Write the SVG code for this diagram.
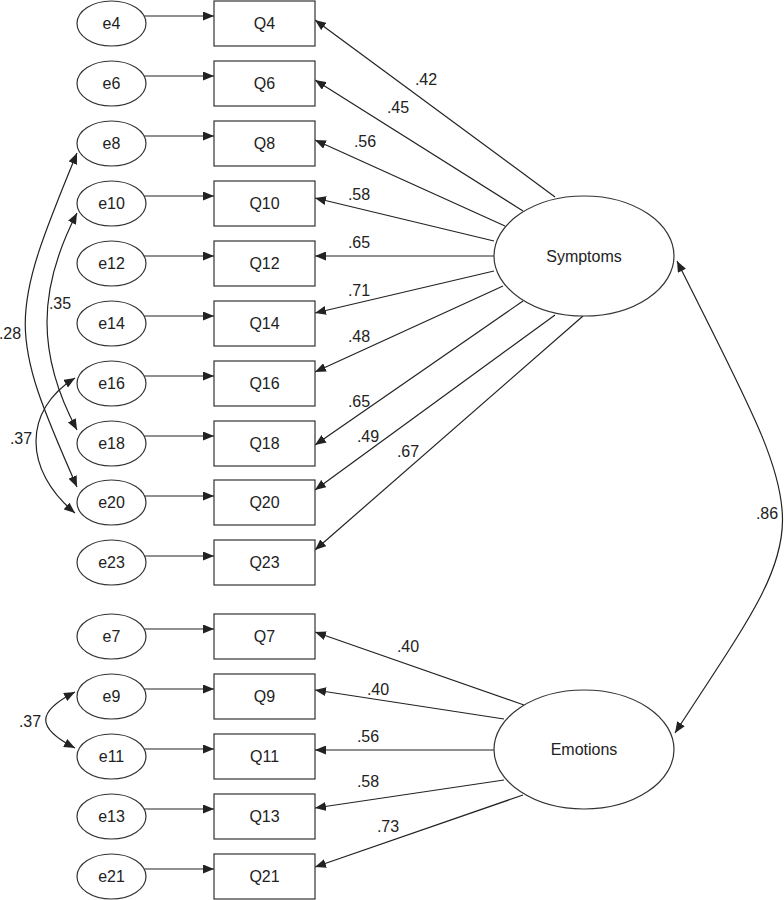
<svg xmlns="http://www.w3.org/2000/svg" width="784" height="900" viewBox="0 0 784 900">
<defs>
<marker id="ah" markerWidth="11" markerHeight="9" refX="11" refY="4.5" orient="auto-start-reverse" markerUnits="userSpaceOnUse">
<path d="M0,0 L11,4.5 L0,9 z" fill="#222"/>
</marker>
<style>
.n{fill:#fff;stroke:#333;stroke-width:1.2}
.t{font-family:"Liberation Sans",Arial,Helvetica,sans-serif;font-size:16px;fill:#222;text-anchor:middle}
.c{fill:none;stroke:#222;stroke-width:1.2;marker-end:url(#ah)}
.b{fill:none;stroke:#222;stroke-width:1.2;marker-start:url(#ah);marker-end:url(#ah)}
</style>
</defs>
<rect width="784" height="900" fill="#fff"/>

<g id="connectors">
<!-- error to item -->
<line class="c" x1="144" y1="16" x2="214" y2="16"/>
<line class="c" x1="144" y1="76" x2="214" y2="76"/>
<line class="c" x1="144" y1="136" x2="214" y2="136"/>
<line class="c" x1="144" y1="196" x2="214" y2="196"/>
<line class="c" x1="144" y1="256" x2="214" y2="256"/>
<line class="c" x1="144" y1="316" x2="214" y2="316"/>
<line class="c" x1="144" y1="376" x2="214" y2="376"/>
<line class="c" x1="144" y1="436" x2="214" y2="436"/>
<line class="c" x1="144" y1="496" x2="214" y2="496"/>
<line class="c" x1="144" y1="556" x2="214" y2="556"/>
<line class="c" x1="144" y1="629" x2="214" y2="629"/>
<line class="c" x1="144" y1="689" x2="214" y2="689"/>
<line class="c" x1="144" y1="749" x2="214" y2="749"/>
<line class="c" x1="144" y1="809" x2="214" y2="809"/>
<line class="c" x1="144" y1="869" x2="214" y2="869"/>
<!-- Symptoms loadings -->
<line class="c" x1="555" y1="197" x2="315" y2="20"/>
<line class="c" x1="523" y1="211" x2="315" y2="80"/>
<line class="c" x1="505" y1="226" x2="315" y2="140"/>
<line class="c" x1="494" y1="241" x2="315" y2="198"/>
<line class="c" x1="494" y1="256" x2="315" y2="256"/>
<line class="c" x1="494" y1="271" x2="315" y2="313"/>
<line class="c" x1="503" y1="286" x2="315" y2="372"/>
<line class="c" x1="523" y1="301" x2="315" y2="445"/>
<line class="c" x1="555" y1="315" x2="315" y2="490"/>
<line class="c" x1="583" y1="316" x2="315" y2="550"/>
<!-- Emotions loadings -->
<line class="c" x1="524" y1="705" x2="315" y2="632"/>
<line class="c" x1="504" y1="719" x2="315" y2="690"/>
<line class="c" x1="494" y1="750" x2="315" y2="750"/>
<line class="c" x1="504" y1="780" x2="315" y2="808"/>
<line class="c" x1="523" y1="795" x2="315" y2="867"/>
<!-- covariances -->
<path class="b" d="M677,261 C818,543 818,513 675,733"/>
<path class="b" d="M77,153 C8,320 8,330 77,487"/>
<path class="b" d="M77,213 C37,290 37,355 77,430"/>
<path class="b" d="M75,378 C23,410 23,470 75,513"/>
<path class="b" d="M75,692 C36,712 36,728 75,748"/>
</g>

<g id="labels">
<text class="t" x="426" y="79" dy="0.35em">.42</text>
<text class="t" x="398" y="107" dy="0.35em">.45</text>
<text class="t" x="365" y="141" dy="0.35em">.56</text>
<text class="t" x="359" y="194" dy="0.35em">.58</text>
<text class="t" x="359" y="242" dy="0.35em">.65</text>
<text class="t" x="359" y="290" dy="0.35em">.71</text>
<text class="t" x="359" y="336" dy="0.35em">.48</text>
<text class="t" x="359" y="401" dy="0.35em">.65</text>
<text class="t" x="368" y="436" dy="0.35em">.49</text>
<text class="t" x="408" y="451" dy="0.35em">.67</text>
<text class="t" x="408" y="646" dy="0.35em">.40</text>
<text class="t" x="378" y="689" dy="0.35em">.40</text>
<text class="t" x="368" y="736" dy="0.35em">.56</text>
<text class="t" x="368" y="781" dy="0.35em">.58</text>
<text class="t" x="388" y="826" dy="0.35em">.73</text>
<text class="t" x="767" y="513" dy="0.35em">.86</text>
<text class="t" x="10" y="333" dy="0.35em">.28</text>
<text class="t" x="60" y="303" dy="0.35em">.35</text>
<text class="t" x="21" y="438" dy="0.35em">.37</text>
<text class="t" x="30" y="721" dy="0.35em">.37</text>
</g>

<g id="Symptoms"><ellipse class="n" cx="584" cy="256" rx="90" ry="60"/><text class="t" x="584" y="256" dy="0.35em">Symptoms</text></g>
<g id="Emotions"><ellipse class="n" cx="584" cy="749.5" rx="90" ry="59.5"/><text class="t" x="584" y="749" dy="0.35em">Emotions</text></g>

<g id="Q4"><rect class="n" x="214" y="1" width="101" height="45"/><text class="t" x="264.5" y="23.5" dy="0.35em">Q4</text></g>
<g id="Q6"><rect class="n" x="214" y="61" width="101" height="45"/><text class="t" x="264.5" y="83.5" dy="0.35em">Q6</text></g>
<g id="Q8"><rect class="n" x="214" y="121" width="101" height="45"/><text class="t" x="264.5" y="143.5" dy="0.35em">Q8</text></g>
<g id="Q10"><rect class="n" x="214" y="181" width="101" height="45"/><text class="t" x="264.5" y="203.5" dy="0.35em">Q10</text></g>
<g id="Q12"><rect class="n" x="214" y="241" width="101" height="45"/><text class="t" x="264.5" y="263.5" dy="0.35em">Q12</text></g>
<g id="Q14"><rect class="n" x="214" y="301" width="101" height="45"/><text class="t" x="264.5" y="323.5" dy="0.35em">Q14</text></g>
<g id="Q16"><rect class="n" x="214" y="361" width="101" height="45"/><text class="t" x="264.5" y="383.5" dy="0.35em">Q16</text></g>
<g id="Q18"><rect class="n" x="214" y="421" width="101" height="45"/><text class="t" x="264.5" y="443.5" dy="0.35em">Q18</text></g>
<g id="Q20"><rect class="n" x="214" y="480" width="101" height="45"/><text class="t" x="264.5" y="502.5" dy="0.35em">Q20</text></g>
<g id="Q23"><rect class="n" x="214" y="540" width="101" height="45"/><text class="t" x="264.5" y="562.5" dy="0.35em">Q23</text></g>
<g id="Q7"><rect class="n" x="214" y="614" width="101" height="45"/><text class="t" x="264.5" y="636.5" dy="0.35em">Q7</text></g>
<g id="Q9"><rect class="n" x="214" y="674" width="101" height="45"/><text class="t" x="264.5" y="696.5" dy="0.35em">Q9</text></g>
<g id="Q11"><rect class="n" x="214" y="734" width="101" height="45"/><text class="t" x="264.5" y="756.5" dy="0.35em">Q11</text></g>
<g id="Q13"><rect class="n" x="214" y="794" width="101" height="45"/><text class="t" x="264.5" y="816.5" dy="0.35em">Q13</text></g>
<g id="Q21"><rect class="n" x="214" y="854" width="101" height="45"/><text class="t" x="264.5" y="876.5" dy="0.35em">Q21</text></g>

<g id="e4"><ellipse class="n" cx="111.5" cy="23.5" rx="34.5" ry="22.5"/><text class="t" x="111.5" y="23.5" dy="0.35em">e4</text></g>
<g id="e6"><ellipse class="n" cx="111.5" cy="83.5" rx="34.5" ry="22.5"/><text class="t" x="111.5" y="83.5" dy="0.35em">e6</text></g>
<g id="e8"><ellipse class="n" cx="111.5" cy="143.5" rx="34.5" ry="22.5"/><text class="t" x="111.5" y="143.5" dy="0.35em">e8</text></g>
<g id="e10"><ellipse class="n" cx="111.5" cy="203.5" rx="34.5" ry="22.5"/><text class="t" x="111.5" y="203.5" dy="0.35em">e10</text></g>
<g id="e12"><ellipse class="n" cx="111.5" cy="263.5" rx="34.5" ry="22.5"/><text class="t" x="111.5" y="263.5" dy="0.35em">e12</text></g>
<g id="e14"><ellipse class="n" cx="111.5" cy="323.5" rx="34.5" ry="22.5"/><text class="t" x="111.5" y="323.5" dy="0.35em">e14</text></g>
<g id="e16"><ellipse class="n" cx="111.5" cy="383.5" rx="34.5" ry="22.5"/><text class="t" x="111.5" y="383.5" dy="0.35em">e16</text></g>
<g id="e18"><ellipse class="n" cx="111.5" cy="443.5" rx="34.5" ry="22.5"/><text class="t" x="111.5" y="443.5" dy="0.35em">e18</text></g>
<g id="e20"><ellipse class="n" cx="111.5" cy="502.5" rx="34.5" ry="22.5"/><text class="t" x="111.5" y="502.5" dy="0.35em">e20</text></g>
<g id="e23"><ellipse class="n" cx="111.5" cy="562.5" rx="34.5" ry="22.5"/><text class="t" x="111.5" y="562.5" dy="0.35em">e23</text></g>
<g id="e7"><ellipse class="n" cx="111.5" cy="636.5" rx="34.5" ry="22.5"/><text class="t" x="111.5" y="636.5" dy="0.35em">e7</text></g>
<g id="e9"><ellipse class="n" cx="111.5" cy="696.5" rx="34.5" ry="22.5"/><text class="t" x="111.5" y="696.5" dy="0.35em">e9</text></g>
<g id="e11"><ellipse class="n" cx="111.5" cy="756.5" rx="34.5" ry="22.5"/><text class="t" x="111.5" y="756.5" dy="0.35em">e11</text></g>
<g id="e13"><ellipse class="n" cx="111.5" cy="816.5" rx="34.5" ry="22.5"/><text class="t" x="111.5" y="816.5" dy="0.35em">e13</text></g>
<g id="e21"><ellipse class="n" cx="111.5" cy="876.5" rx="34.5" ry="22.5"/><text class="t" x="111.5" y="876.5" dy="0.35em">e21</text></g>
</svg>
